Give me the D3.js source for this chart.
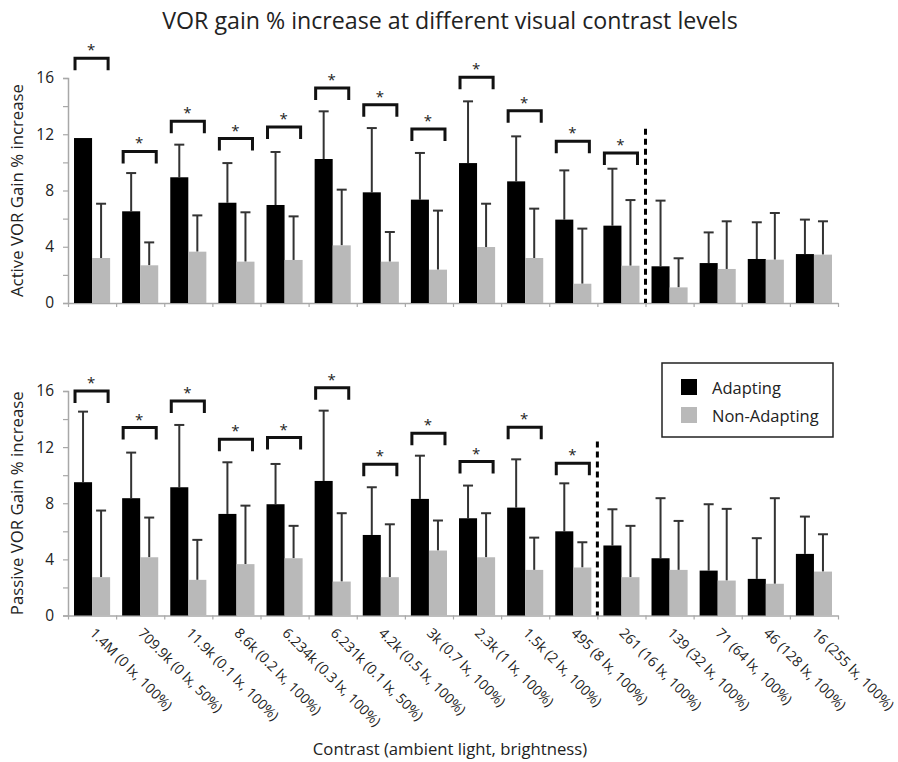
<!DOCTYPE html>
<html>
<head>
<meta charset="utf-8">
<script src="https://cdn.jsdelivr.net/npm/d3@7"></script>
<style>
  body { margin: 0; background: #fff; }
  text { font-family: "Open Sans", sans-serif; fill: #222; }
</style>
</head>
<body>
<div id="chart"></div>
<script>
// categories (contrast, ambient light, brightness)
var categories = ["1.4M (0 lx, 100%)", "709.9k (0 lx, 50%)", "11.9k (0.1 lx, 100%)", "8.6k (0.2 lx, 100%)",
  "6.234k (0.3 lx, 100%)", "6.231k (0.1 lx, 50%)", "4.2k (0.5 lx, 100%)", "3k (0.7 lx, 100%)",
  "2.3k (1 lx, 100%)", "1.5k (2 lx, 100%)", "495 (8 lx, 100%)", "261 (16 lx, 100%)",
  "139 (32 lx, 100%)", "71 (64 lx, 100%)", "46 (128 lx, 100%)", "16 (255 lx, 100%)"];
var seriesNames = ["Adapting", "Non-Adapting"];

// active VOR
var activeAdapt = [11.73, 6.52, 8.94, 7.13, 6.97, 10.24, 7.87, 7.35, 9.95, 8.65, 5.93, 5.5, 2.61, 2.84, 3.13, 3.48];
var activeAdaptSD = [0, 2.72, 2.32, 2.82, 3.77, 3.39, 4.57, 3.32, 4.39, 3.2, 3.5, 4.05, 4.67, 2.18, 2.61, 2.45];
var activeNon = [3.2, 2.68, 3.65, 2.94, 3.06, 4.1, 2.94, 2.37, 3.98, 3.2, 1.37, 2.65, 1.11, 2.42, 3.08, 3.44];
var activeNonSD = [3.86, 1.63, 2.58, 3.51, 3.1, 3.96, 2.11, 4.2, 3.08, 3.51, 3.92, 4.67, 2.07, 3.39, 3.32, 2.37];
var activeSig = [17.4, 10.78, 12.92, 11.69, 12.51, 15.29, 14.1, 12.37, 16.05, 13.68, 11.5, 10.67, null, null, null, null];

// passive VOR
var passiveAdapt = [9.5, 8.36, 9.14, 7.24, 7.93, 9.59, 5.74, 8.31, 6.93, 7.69, 6.0, 4.99, 4.08, 3.2, 2.61, 4.39];
var passiveAdaptSD = [5.03, 3.25, 4.44, 3.68, 2.87, 5.01, 3.4, 3.08, 2.33, 3.44, 3.42, 2.58, 4.28, 4.73, 2.9, 2.66];
var passiveNon = [2.73, 4.15, 2.54, 3.66, 4.08, 2.42, 2.73, 4.63, 4.15, 3.25, 3.42, 2.73, 3.25, 2.49, 2.26, 3.13];
var passiveNonSD = [4.75, 2.83, 2.85, 4.17, 2.31, 4.87, 3.77, 2.14, 3.14, 2.3, 1.8, 3.66, 3.49, 5.11, 6.1, 2.66];
var passiveSig = [16.0, 13.39, 15.29, 12.56, 12.68, 16.24, 10.78, 12.99, 10.97, 13.41, 10.85, null, null, null, null, null];

var yTicks = [0, 2, 4, 6, 8, 10, 12, 14, 16];

var width = 898, height = 762;
var barColors = ["#000000", "#b9b9b9"];
var axisColor = "#a8a8a8";

var svg = d3.select("#chart").append("svg")
  .attr("width", width)
  .attr("height", height);

var x = d3.scaleBand().domain(categories).range([68, 838]).padding(0);
var xInner = d3.scaleBand().domain(seriesNames).range([0, x.bandwidth()])
  .paddingInner(0).paddingOuter(1 / 3);
var xEdge = d3.scaleLinear().domain([0, categories.length]).range([68, 838]);

svg.append("text")
  .attr("x", 450).attr("y", 29)
  .attr("text-anchor", "middle")
  .attr("font-size", "23.2px")
  .text("VOR gain % increase at different visual contrast levels");

function drawPanel(y0, y1, adapt, adaptSD, non, nonSD, sig, cut, label) {
  var y = d3.scaleLinear().domain([0, 16]).range([y0, y1]);
  var g = svg.append("g");

  // y axis
  var yAxisG = g.append("g")
    .attr("transform", "translate(68,0)")
    .call(d3.axisLeft(y).tickValues(yTicks).tickSize(5).tickPadding(9)
      .tickFormat(function (d) { return d % 4 === 0 ? d : ""; }));
  yAxisG.select(".domain").attr("stroke", axisColor).attr("stroke-width", 1.5);
  yAxisG.selectAll("line").attr("stroke", axisColor).attr("stroke-width", 1.2);
  yAxisG.selectAll("text").attr("font-size", "15.5px").attr("fill", "#222")
    .attr("font-family", "'Open Sans', sans-serif");

  // x axis (boundary ticks)
  var xAxisG = g.append("g")
    .attr("transform", "translate(0," + y0 + ")")
    .call(d3.axisBottom(xEdge).tickValues(d3.range(categories.length + 1))
      .tickSize(4).tickSizeOuter(0).tickFormat(""));
  xAxisG.select(".domain").attr("stroke", axisColor).attr("stroke-width", 1.5);
  xAxisG.selectAll("line").attr("stroke", axisColor).attr("stroke-width", 1.2);

  var rows = categories.map(function (c, i) {
    return {
      cat: c, sig: sig[i],
      vals: [
        { s: seriesNames[0], v: adapt[i], sd: adaptSD[i] },
        { s: seriesNames[1], v: non[i], sd: nonSD[i] }
      ]
    };
  });

  var grp = g.selectAll(".grp").data(rows).enter().append("g")
    .attr("transform", function (d) { return "translate(" + x(d.cat) + ",0)"; });

  // error bars (upper only)
  var eb = grp.selectAll(".eb").data(function (d) {
    return d.vals.filter(function (v) { return v.sd > 0; });
  }).enter().append("g");
  eb.append("line")
    .attr("x1", function (d) { return xInner(d.s) + xInner.bandwidth() / 2; })
    .attr("x2", function (d) { return xInner(d.s) + xInner.bandwidth() / 2; })
    .attr("y1", function (d) { return y(d.v); })
    .attr("y2", function (d) { return y(d.v + d.sd); })
    .attr("stroke", "#333").attr("stroke-width", 2);
  eb.append("line")
    .attr("x1", function (d) { return xInner(d.s) + xInner.bandwidth() / 2 - 5; })
    .attr("x2", function (d) { return xInner(d.s) + xInner.bandwidth() / 2 + 5; })
    .attr("y1", function (d) { return y(d.v + d.sd); })
    .attr("y2", function (d) { return y(d.v + d.sd); })
    .attr("stroke", "#333").attr("stroke-width", 2);

  grp.selectAll("rect").data(function (d) { return d.vals; }).enter().append("rect")
    .attr("x", function (d) { return xInner(d.s); })
    .attr("width", xInner.bandwidth())
    .attr("y", function (d) { return y(d.v); })
    .attr("height", function (d) { return y0 - y(d.v); })
    .attr("fill", function (d, i) { return barColors[i]; });

  // significance brackets
  var sg = grp.filter(function (d) { return d.sig != null; });
  sg.append("path")
    .attr("d", function (d) {
      var l = xInner(seriesNames[0]) + 1, r = xInner(seriesNames[1]) + xInner.bandwidth() - 2;
      var t = y(d.sig);
      return "M" + l + "," + (t + 12) + "V" + t + "H" + r + "V" + (t + 12);
    })
    .attr("fill", "none").attr("stroke", "#111").attr("stroke-width", 3);
  sg.append("text")
    .attr("x", x.bandwidth() / 2 - 1)
    .attr("y", function (d) { return y(d.sig) - 3; })
    .attr("text-anchor", "middle")
    .attr("font-size", "15px")
    .attr("fill", "#333")
    .text("*");

  // dashed separator
  g.append("line")
    .attr("x1", xEdge(cut)).attr("x2", xEdge(cut))
    .attr("y1", y(12.4)).attr("y2", y0)
    .attr("stroke", "#000").attr("stroke-width", 3)
    .attr("stroke-dasharray", "6,4");

  svg.append("text")
    .attr("transform", "translate(23," + ((y0 + y1) / 2) + ") rotate(-90)")
    .attr("text-anchor", "middle")
    .attr("font-size", "16.8px")
    .text(label);
  return g;
}

drawPanel(303, 78, activeAdapt, activeAdaptSD, activeNon, activeNonSD, activeSig, 12,
  "Active VOR Gain % increase");
drawPanel(615.5, 391, passiveAdapt, passiveAdaptSD, passiveNon, passiveNonSD, passiveSig, 11,
  "Passive VOR Gain % increase");

// category labels under bottom panel
svg.selectAll(".xlab").data(categories).enter().append("text")
  .attr("transform", function (d) {
    return "translate(" + (x(d) + x.bandwidth() / 2 - 3) + ",634) rotate(45)";
  })
  .attr("font-size", "14px")
  .attr("fill", "#333")
  .text(function (d) { return d; });

svg.append("text")
  .attr("x", 450).attr("y", 755)
  .attr("text-anchor", "middle")
  .attr("font-size", "16.7px")
  .text("Contrast (ambient light, brightness)");

// legend
var lg = svg.append("g").attr("transform", "translate(662,363)");
lg.append("rect").attr("width", 171).attr("height", 74)
  .attr("fill", "#fff").attr("stroke", "#222").attr("stroke-width", 1.5);
lg.selectAll(".sw").data(seriesNames).enter().append("rect")
  .attr("x", 19).attr("y", function (d, i) { return 16 + i * 28; })
  .attr("width", 16).attr("height", 16)
  .attr("fill", function (d, i) { return barColors[i]; });
lg.selectAll(".lt").data(seriesNames).enter().append("text")
  .attr("x", 50).attr("y", function (d, i) { return 31 + i * 28; })
  .attr("font-size", "16.5px")
  .text(function (d) { return d; });
</script>
</body>
</html>
